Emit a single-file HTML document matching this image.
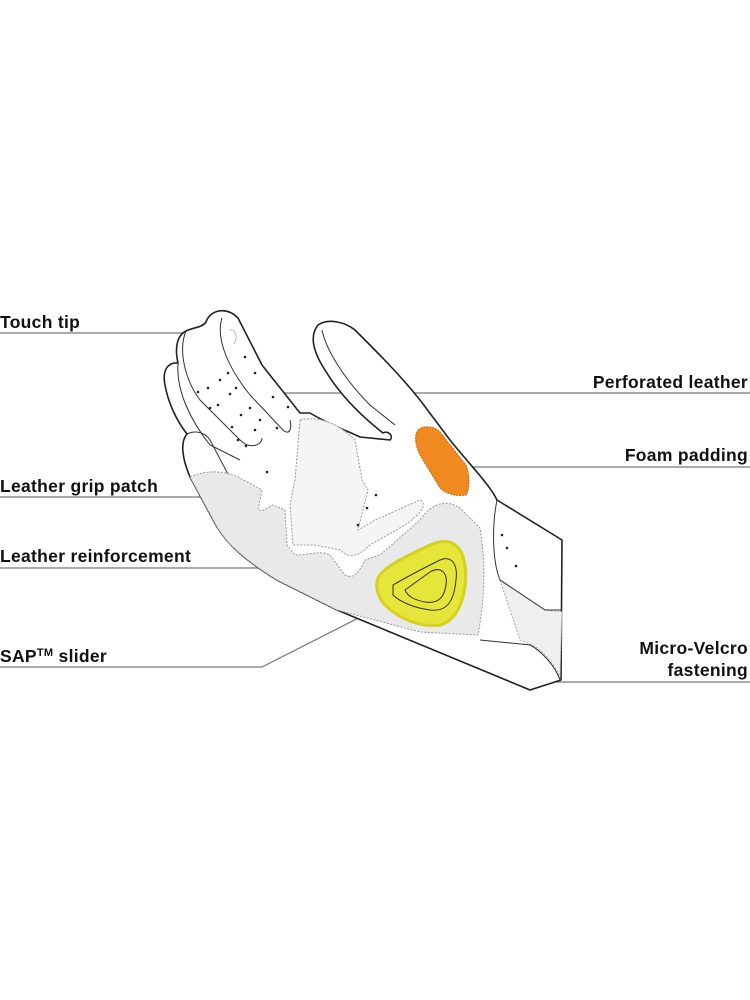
<!DOCTYPE html>
<html><head><meta charset="utf-8"><style>
html,body{margin:0;padding:0;background:#fff;width:750px;height:1000px;overflow:hidden}
svg{display:block}
text{font-family:"Liberation Sans",Arial,sans-serif;font-weight:bold;font-size:17.5px;letter-spacing:0.3px;fill:#111}
</style></head><body>
<svg width="750" height="1000" viewBox="0 0 750 1000">
<g fill="none" stroke="#777" stroke-width="1.2">
<path d="M0 333H228"/>
<path d="M230 393H750"/>
<path d="M468 467H750"/>
<path d="M0 497H292"/>
<path d="M0 568H262"/>
<path d="M0 667H262L388 603"/>
<path d="M552 682H750"/>
</g>
<text x="0" y="328">Touch tip</text>
<text x="748" y="388" text-anchor="end">Perforated leather</text>
<text x="748" y="461" text-anchor="end">Foam padding</text>
<text x="0" y="492">Leather grip patch</text>
<text x="0" y="562">Leather reinforcement</text>
<text x="0" y="662">SAP<tspan font-size="11" dy="-6">TM</tspan><tspan dy="6"> slider</tspan></text>
<text x="748" y="654" text-anchor="end">Micro-Velcro</text>
<text x="748" y="676" text-anchor="end">fastening</text>

<g stroke="#222" stroke-width="1.6" stroke-linejoin="round">
<path fill="#fff" d="M190 477 C182 458 180 442 187 434 C176 420 168 402 165 385 C162 370 168 362 178 363 C175 350 176 336 186 331 C194 327 202 328 206 322 C210 310 226 306 238 318 L262 365 L300 413 L310 413 C330 425 350 432 360 437 L390 440 C394 436 388 430 383 433 C360 415 340 395 325 370 C312 350 310 335 318 325 C328 318 345 322 355 330 C380 355 400 375 420 400 L450 440 C470 465 490 485 497 500 L562 540 L561 680 L530 690 L337 610 L277 580 C245 560 228 545 217 527 Z"/>
</g>
<!-- cuff pattern area -->
<path fill="#efefef" stroke="#aaa" stroke-width="1" stroke-dasharray="2 1.5" d="M500 580 L545 610 L562 612 L560 678 C555 665 545 652 532 645 L520 640 Z"/>
<g fill="none" stroke="#333" stroke-width="1">
<path d="M186 331 C178 350 185 380 200 400 L240 440 C250 450 262 445 262 438"/>
<path d="M222 318 C215 340 230 370 250 395 L283 430 C290 436 292 428 290 420"/>
<path d="M178 363 C176 390 190 420 210 445 L240 460"/>
<path d="M187 434 C195 430 205 432 210 440 L230 478 C235 490 215 485 205 480"/>
<path d="M322 330 C326 350 345 380 370 405 L395 425"/>
<path d="M230 330 C236 328 238 338 234 344" stroke="#bbb"/>
</g>
<path fill="#e9e9e9" stroke="#999" stroke-width="1" stroke-dasharray="2 1.5" d="M190 477 C205 470 225 470 240 478 L262 490 L258 510 C265 512 270 505 273 505 L285 510 L287 545 L295 555 C310 555 320 550 330 555 L345 575 C355 580 360 570 365 560 L380 555 L420 520 C430 505 445 498 460 508 L480 528 C485 560 486 590 478 635 L420 632 L337 610 L277 580 C245 560 228 545 217 527 Z"/>
<path fill="#f5f5f5" stroke="#999" stroke-width="1" stroke-dasharray="2 1.5" d="M300 420 C320 415 340 425 355 440 L362 480 L368 490 L358 530 L375 520 L420 500 C430 505 415 518 405 525 L370 545 C360 555 350 560 340 550 L315 545 L293 545 L290 505 L295 480 Z"/>
<path fill="#f0891f" stroke="#c96a10" stroke-width="1" stroke-dasharray="2 1" d="M418 430 C423 425 435 426 440 432 L466 465 C470 475 470 490 466 495 C455 497 445 493 440 488 L420 455 C415 445 414 435 418 430 Z"/>
<path fill="#e6e53a" stroke="#d6d01e" stroke-width="3" d="M378 578 C385 565 410 555 430 545 C450 536 462 545 465 565 C468 590 460 620 440 625 C420 628 398 618 385 605 C377 596 375 585 378 578 Z"/>
<path fill="none" stroke="#333" stroke-width="1" d="M393 585 C405 578 420 570 440 560 C452 555 458 565 456 580 C454 600 448 612 430 610 C415 608 400 602 393 595 Z"/>
<path fill="none" stroke="#333" stroke-width="1" d="M405 590 L430 572 C440 566 448 572 446 585 C444 598 438 604 425 602 C415 600 408 597 405 590 Z"/>
<g fill="none" stroke="#333" stroke-width="1">
<path d="M497 500 C492 525 492 560 500 580 L545 610 L562 610"/>
<path d="M480 640 L530 645 C540 650 555 665 560 680"/>
</g>
<g fill="#222">
<circle cx="245" cy="357" r="1.3"/><circle cx="255" cy="373" r="1.3"/><circle cx="228" cy="373" r="1.3"/>
<circle cx="220" cy="380" r="1.3"/><circle cx="198" cy="392" r="1.3"/><circle cx="208" cy="388" r="1.3"/>
<circle cx="236" cy="388" r="1.3"/><circle cx="230" cy="394" r="1.3"/><circle cx="273" cy="397" r="1.3"/>
<circle cx="210" cy="408" r="1.3"/><circle cx="218" cy="405" r="1.3"/><circle cx="250" cy="408" r="1.3"/>
<circle cx="288" cy="407" r="1.3"/><circle cx="241" cy="415" r="1.3"/><circle cx="260" cy="420" r="1.3"/>
<circle cx="255" cy="430" r="1.3"/><circle cx="232" cy="427" r="1.3"/><circle cx="277" cy="428" r="1.3"/>
<circle cx="238" cy="440" r="1.3"/><circle cx="246" cy="446" r="1.3"/><circle cx="267" cy="472" r="1.3"/>
<circle cx="376" cy="495" r="1.3"/><circle cx="367" cy="508" r="1.3"/><circle cx="358" cy="525" r="1.3"/>
<circle cx="502" cy="535" r="1.3"/><circle cx="507" cy="548" r="1.3"/><circle cx="516" cy="566" r="1.3"/>
</g>
</svg>
</body></html>
